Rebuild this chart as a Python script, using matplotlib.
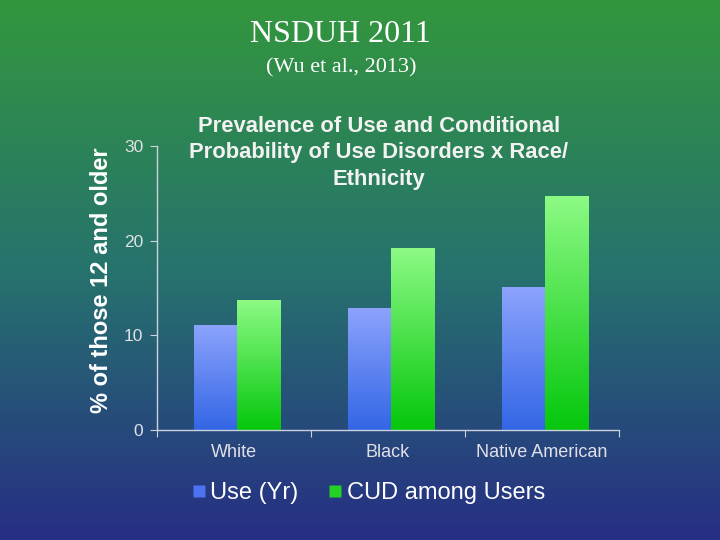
import numpy as np
import matplotlib
matplotlib.use("Agg")
import matplotlib.pyplot as plt
from matplotlib.colors import LinearSegmentedColormap
from matplotlib.lines import Line2D

categories = ["White", "Black", "Native American"]
use_yr = [11.1, 12.9, 15.1]
cud_users = [13.7, 19.2, 24.7]
series_names = ["Use (Yr)", "CUD among Users"]
yticks = [0, 10, 20, 30]

fig = plt.figure(figsize=(7.2, 5.4), dpi=100)

# background gradient
bg = fig.add_axes([0, 0, 1, 1], zorder=0)
bg_cmap = LinearSegmentedColormap.from_list(
    "bg", [(0.0, (0.20, 0.59, 0.24)), (0.5, (0.15, 0.45, 0.43)), (1.0, (0.15, 0.18, 0.52))])
grad = np.linspace(0, 1, 256).reshape(-1, 1)
bg.imshow(grad, aspect="auto", cmap=bg_cmap, extent=[0, 1, 0, 1], origin="upper")
bg.set_axis_off()

ax = fig.add_axes([157/720, 1 - 430/540, (619-157)/720, (430-146)/540], zorder=1)
ax.patch.set_alpha(0)

x = np.arange(len(categories))
w = 0.28
blue_cmap = LinearSegmentedColormap.from_list("b", [(0.20, 0.40, 0.90), (0.55, 0.64, 0.99)])
green_cmap = LinearSegmentedColormap.from_list("g", [(0.02, 0.78, 0.05), (0.55, 0.98, 0.52)])

def grad_bars(xpos, vals, cmap):
    bars = ax.bar(xpos, vals, width=w, color="none", edgecolor="none", zorder=2)
    for b in bars:
        x0, y0 = b.get_x(), b.get_y()
        x1, y1 = x0 + b.get_width(), y0 + b.get_height()
        im = ax.imshow(np.linspace(0, 1, 128).reshape(-1, 1), cmap=cmap, aspect="auto",
                       extent=[x0, x1, y0, y1], origin="lower", zorder=2)
        im.set_clip_path(b)
    return bars

grad_bars(x - w/2 + 0.02, use_yr, blue_cmap)
grad_bars(x + w/2 + 0.02, cud_users, green_cmap)

ax.set_xlim(-0.5, len(categories) - 0.5)
ax.set_ylim(0, 30)
axis_col = (0.80, 0.82, 0.86)
for s in ["top", "right"]:
    ax.spines[s].set_visible(False)
for s in ["left", "bottom"]:
    ax.spines[s].set_color(axis_col)
    ax.spines[s].set_linewidth(1.0)

ax.set_yticks(yticks)
ax.set_yticklabels([str(v) for v in yticks], fontsize=12.5, color=(0.88, 0.88, 0.9),
                   family="Liberation Sans")
ax.tick_params(axis="y", length=5, color=axis_col, pad=5)

ax.set_xticks(np.arange(-0.5, len(categories), 1.0))
ax.set_xticklabels([])
ax.tick_params(axis="x", which="major", length=5, color=axis_col, direction="out")
ax.set_xticks(x, minor=True)
ax.set_xticklabels(categories, minor=True, fontsize=13, color=(0.88, 0.88, 0.9),
                   family="Liberation Sans")
ax.tick_params(axis="x", which="minor", length=0, pad=10)

fig.text(379/720, 1 - 116/540,
         "Prevalence of Use and Conditional\nProbability of Use Disorders x Race/\nEthnicity",
         ha="center", va="top", fontsize=15.8, fontweight="bold",
         color=(0.95, 0.95, 0.95), family="Liberation Sans", linespacing=1.33)

fig.text(102/720, 1 - 280/540, "% of those 12 and older", rotation=90, ha="center", va="center",
         fontsize=17, fontweight="bold", color="white", family="Liberation Sans")

fig.text(340.5/720, 1 - 35/540, "NSDUH 2011", ha="center", va="center", fontsize=23,
         color="white", family="Liberation Serif")
fig.text(341/720, 1 - 68/540, "(Wu et al., 2013)", ha="center", va="center", fontsize=16,
         color="white", family="Liberation Serif")

handles = [Line2D([], [], marker="s", linestyle="none", markersize=8,
                  markerfacecolor=(0.30, 0.45, 0.95), markeredgecolor="none"),
           Line2D([], [], marker="s", linestyle="none", markersize=8,
                  markerfacecolor=(0.15, 0.82, 0.15), markeredgecolor="none")]
leg = fig.legend(handles, series_names, loc="center", bbox_to_anchor=(369/720, 1 - 493/540),
                 ncol=2, frameon=False, handlelength=0.5, handletextpad=0.25, columnspacing=1.3,
                 prop={"family": "Liberation Sans", "size": 17})
for t in leg.get_texts():
    t.set_color("white")

fig.savefig("out.png", dpi=100)
